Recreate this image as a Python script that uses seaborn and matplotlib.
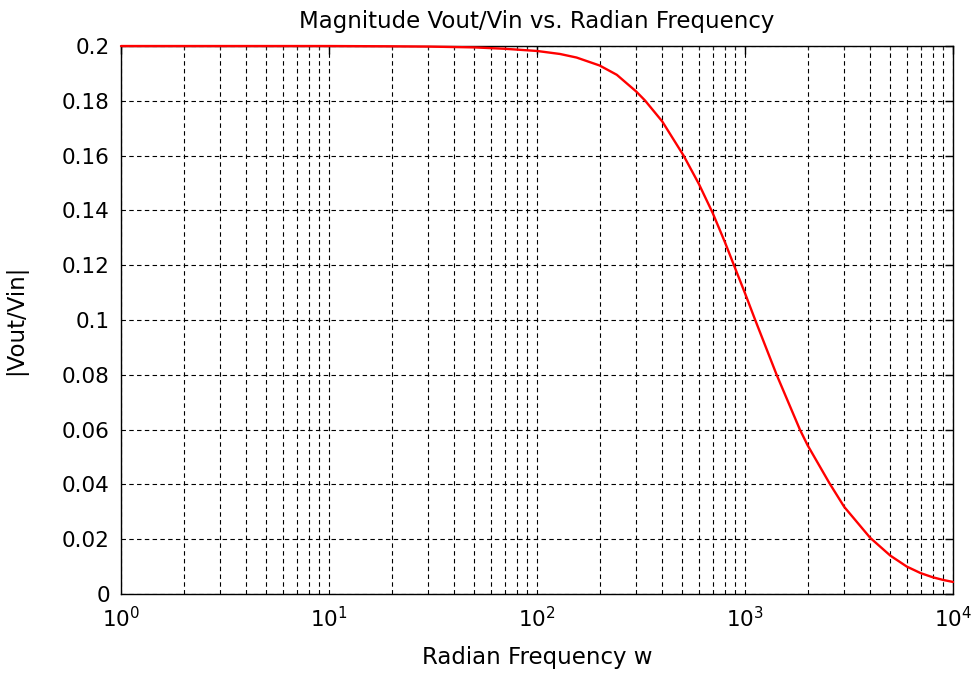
import numpy as np
import pandas as pd
import matplotlib
matplotlib.use("Agg")
import matplotlib.pyplot as plt
import seaborn as sns
from matplotlib.ticker import LogLocator, FuncFormatter, NullFormatter

# Magnitude response |Vout/Vin| sampled over radian frequency
freq_w = [1, 10, 20, 30, 50, 70, 100, 129, 155, 200, 242, 300, 330, 400, 507,
          600, 700, 800, 885, 1000, 1120, 1420, 1837, 2000, 2545, 3000, 4000,
          5000, 6000, 7000, 8000, 9000, 10000]
magnitude = [0.2000, 0.2000, 0.1999, 0.1998, 0.1995, 0.1990, 0.1982, 0.1971,
             0.1958, 0.1929, 0.1895, 0.1834, 0.1802, 0.1725, 0.1600, 0.1497,
             0.1390, 0.1285, 0.1200, 0.1098, 0.1000, 0.0800, 0.0600, 0.0543,
             0.0405, 0.0318, 0.0205, 0.0140, 0.0100, 0.0076, 0.0061, 0.0051,
             0.0044]

y_ticks = [0, 0.02, 0.04, 0.06, 0.08, 0.1, 0.12, 0.14, 0.16, 0.18, 0.2]

title_text = "Magnitude Vout/Vin vs. Radian Frequency"
x_label = "Radian Frequency w"
y_label = "|Vout/Vin|"

df = pd.DataFrame({"w": freq_w, "mag": magnitude})

sns.set_style("white")
plt.rcParams["font.family"] = ["DejaVu Sans"]
plt.rcParams["mathtext.fontset"] = "dejavusans"

FS_TICK = 15.5
FS_TEXT = 16.5

fig = plt.figure(figsize=(9.75, 6.73), dpi=100)
ax = fig.add_axes([0.1241, 0.1174, 0.8533, 0.8142])

sns.lineplot(data=df, x="w", y="mag", ax=ax, color="#ff0000", linewidth=1.7,
             zorder=5)
for ln in ax.lines:
    ln.set_clip_on(False)
    ln.set_solid_joinstyle("round")
    ln.set_solid_capstyle("round")

ax.set_xscale("log")
ax.set_xlim(1, 1e4)
ax.set_ylim(0, 0.2)
ax.set_yticks(y_ticks)
ax.yaxis.set_major_formatter(FuncFormatter(lambda v, p: f"{v:g}"))
ax.xaxis.set_major_locator(LogLocator(base=10, numticks=10))
ax.xaxis.set_minor_locator(LogLocator(base=10, subs=np.arange(2, 10), numticks=100))
ax.xaxis.set_minor_formatter(NullFormatter())

grid_kw = dict(color="black", linestyle=(0, (4, 3)), linewidth=0.8)
ax.grid(True, which="major", axis="both", **grid_kw)
ax.grid(True, which="minor", axis="x", **grid_kw)
ax.set_axisbelow(True)

for side in ["left", "right", "top", "bottom"]:
    ax.spines[side].set_visible(True)
    ax.spines[side].set_color("black")
    ax.spines[side].set_linewidth(1.0)

ax.tick_params(axis="both", which="major", direction="in", length=6, width=1,
               colors="black", labelsize=FS_TICK, top=True, right=True)
ax.tick_params(axis="y", which="major", pad=8)
ax.tick_params(axis="x", which="major", pad=9)
ax.tick_params(axis="x", which="minor", direction="in", length=3, width=0.8,
               top=True)

ax.set_title(title_text, fontsize=FS_TEXT, color="black", pad=13)
ax.set_xlabel(x_label, fontsize=FS_TEXT, color="black", va="top")
ax.set_ylabel(y_label, fontsize=FS_TEXT, color="black", va="center")
ax.xaxis.set_label_coords(0.5, -0.095)
ax.yaxis.set_label_coords(-0.127, 0.5)

fig.savefig("out.png", dpi=100, facecolor="white")
